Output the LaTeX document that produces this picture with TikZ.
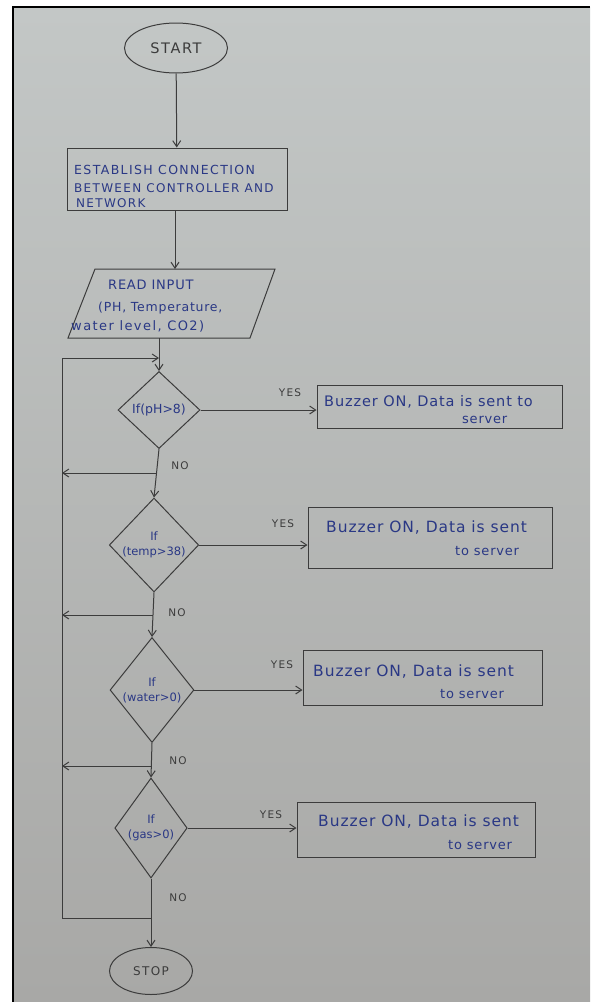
\documentclass[tikz,border=0pt]{standalone}
\usepackage{fontspec}
\setmainfont{DejaVu Sans}
\newfontfamily\hand[LetterSpace=6]{DejaVu Sans}
\newfontfamily\handw[LetterSpace=11]{DejaVu Sans}
\usetikzlibrary{shapes.geometric,arrows.meta}
\definecolor{ink}{HTML}{2A3885}
\definecolor{pencil}{HTML}{3C3C3C}
\definecolor{papertop}{HTML}{C3C7C6}
\definecolor{papermid}{HTML}{BDBFBA}
\definecolor{paperbot}{HTML}{A8A8A6}
\tikzset{
  line/.style={draw=pencil, line width=1pt},
  arr/.style={line, -{Straight Barb[length=6pt,width=8pt]}},
  terminal/.style={ellipse, line, inner sep=0pt, text=pencil},
  procbox/.style={rectangle, line, inner sep=0pt},
  decision/.style={diamond, line, inner sep=0pt, text=ink, align=center, font=\fontsize{11.5}{15}\selectfont},
  inktext/.style={text=ink, inner sep=0pt, anchor=west},
  tag/.style={text=pencil, inner sep=0pt, font=\handw\fontsize{10.5}{12}\selectfont},
  bz/.style={inktext, font=\hand\fontsize{15.5}{17}\selectfont},
  sv/.style={inktext, font=\hand\fontsize{13}{15}\selectfont},
}
\begin{document}
\begin{tikzpicture}[x=1pt,y=-1pt]
\useasboundingbox (0,0) rectangle (590,1002);
% paper photo
\shade[top color=papertop, middle color=papermid, bottom color=paperbot] (13,7) rectangle (590,1002);
\draw[black, line width=1.2pt] (13,1002) -- (13,7) -- (590,7);

% start
\node[terminal, minimum width=103pt, minimum height=50pt, font=\handw\fontsize{14.5}{16}\selectfont] (start) at (176,48) {START};
% establish connection
\node[procbox, minimum width=220pt, minimum height=62pt] (conn) at (177,179) {};
\node[inktext, font=\handw\fontsize{12.5}{14}\selectfont] (c1) at (74,170) {ESTABLISH CONNECTION};
\node[inktext, font=\handw\fontsize{12}{14}\selectfont] (c2) at (74,188) {BETWEEN CONTROLLER AND};
\node[inktext, font=\handw\fontsize{12}{14}\selectfont] (c3) at (76,203) {NETWORK};
% read input (parallelogram)
\node[inner sep=0pt, minimum width=180pt, minimum height=69pt] (read) at (171.5,303.5) {};
\draw[line] (68,338) -- (250,338) -- (275,269) -- (95,269) -- cycle;
\node[inktext, font=\hand\fontsize{13}{15}\selectfont] (r1) at (108,285) {READ INPUT};
\node[inktext, font=\hand\fontsize{12.5}{14}\selectfont] (r2) at (98,308) {(PH, Temperature,};
\node[inktext, font=\handw\fontsize{13}{14}\selectfont] (r3) at (71,326) {water level, CO2)};

% decisions
\node[decision, minimum width=82pt, minimum height=77pt, font=\fontsize{12.5}{15}\selectfont] (d1) at (159,410) {If(pH>8)};
\node[decision, minimum width=78pt, minimum height=94pt] (d2) at (154,545) {If\\(temp>38)};
\node[decision, minimum width=82pt, minimum height=105pt] (d3) at (152,690) {If\\(water>0)};
\node[decision, minimum width=68pt, minimum height=100pt] (d4) at (151,828) {If\\(gas>0)};

% buzzer boxes
\node[procbox, minimum width=245pt, minimum height=43pt] (b1) at (439.5,406.5) {};
\node[procbox, minimum width=244pt, minimum height=61pt] (b2) at (430,537.5) {};
\node[procbox, minimum width=239pt, minimum height=55pt] (b3) at (422.5,677.5) {};
\node[procbox, minimum width=238pt, minimum height=55pt] (b4) at (416,829.5) {};
\node[bz, font=\hand\fontsize{14.5}{16}\selectfont] (t1a) at (324,402) {Buzzer ON, Data is sent to};
\node[sv] (t1b) at (462,420) {server};
\node[bz] (t2a) at (326,528) {Buzzer ON, Data is sent};
\node[sv] (t2b) at (455,551) {to server};
\node[bz] (t3a) at (313,672) {Buzzer ON, Data is sent};
\node[sv] (t3b) at (440,694) {to server};
\node[bz] (t4a) at (318,822) {Buzzer ON, Data is sent};
\node[sv] (t4b) at (448,845) {to server};

% stop
\node[terminal, minimum width=83pt, minimum height=47pt, font=\handw\fontsize{12}{14}\selectfont] (stop) at (151,971) {STOP};

% main flow
\draw[arr] (start) -- (conn);
\draw[arr] (conn.south -| 175,0) -- (175,269);
\draw[arr] (d1.north |- read.south) -- (d1.north);
\draw[arr] (d1.south) -- (d2.north);
\draw[arr] (d2.south) -- (d3.north);
\draw[arr] (d3.south) -- (d4.north);
\draw[arr] (d4.south) -- (stop.north);

% yes branches
\draw[arr] (d1.east) -- (b1.west |- d1.east);
\draw[arr] (d2.east) -- (b2.west |- d2.east);
\draw[arr] (d3.east) -- (b3.west |- d3.east);
\draw[arr] (d4.east) -- (b4.west |- d4.east);
\node[tag] (y1) at (290,393) {YES};
\node[tag] (y2) at (283,524) {YES};
\node[tag] (y3) at (282,665) {YES};
\node[tag] (y4) at (271,815) {YES};

% no branches back to loop line
\coordinate (lt) at (62,358);
\coordinate (lb) at (62,918);
\coordinate (j0) at (159,358);
\coordinate (n1) at (156.5,473);
\coordinate (n2) at (153,615);
\coordinate (n3) at (151.5,766);
\coordinate (n4) at (151,918);
\draw[arr] (n1) -- (n1 -| lt);
\draw[arr] (n2) -- (n2 -| lt);
\draw[arr] (n3) -- (n3 -| lt);
\draw[arr] (n4) -- (lb) -- (lt) -- (j0);
\node[tag] (no1) at (180,466) {NO};
\node[tag] (no2) at (177,613) {NO};
\node[tag] (no3) at (178,761) {NO};
\node[tag] (no4) at (178,898) {NO};
\end{tikzpicture}
\end{document}
